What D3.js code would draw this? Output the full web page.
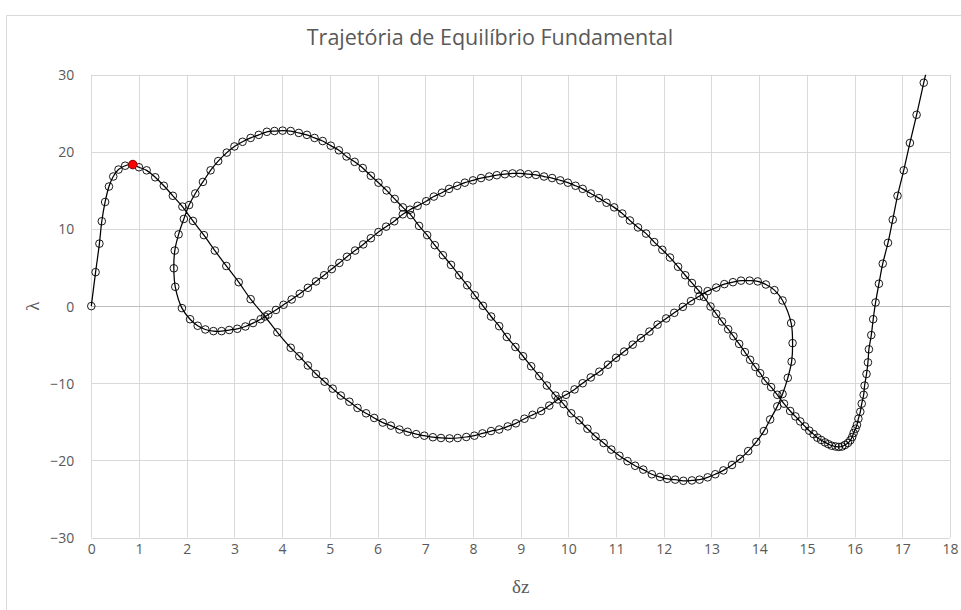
<!DOCTYPE html>
<html>
<head>
<meta charset="utf-8">
<script src="https://cdn.jsdelivr.net/npm/d3@7"></script>
<style>
  html, body { margin: 0; padding: 0; background: #fff; }
  svg { display: block; }
</style>
</head>
<body>
<svg id="chart" width="961" height="610"></svg>
<script>
// Equilibrium path: displacement δz and load factor λ, in solver order
const deltaZ = [
  0, 0.09, 0.17, 0.22, 0.29, 0.37, 0.46, 0.57, 0.71, 0.87,
  1.0, 1.16, 1.34, 1.52, 1.71, 1.91, 2.13, 2.36, 2.59, 2.83,
  3.09, 3.34, 3.64, 3.9, 4.18, 4.36, 4.54, 4.71, 4.89, 5.06,
  5.23, 5.41, 5.58, 5.76, 5.93, 6.11, 6.28, 6.46, 6.63, 6.81,
  6.98, 7.16, 7.33, 7.51, 7.68, 7.86, 8.03, 8.2, 8.38, 8.55,
  8.73, 8.9, 9.08, 9.25, 9.43, 9.6, 9.78, 9.95, 10.13, 10.3,
  10.47, 10.65, 10.83, 11.0, 11.17, 11.35, 11.52, 11.7, 11.87, 12.05,
  12.22, 12.4, 12.57, 12.75, 12.92, 13.1, 13.27, 13.45, 13.62, 13.8,
  13.97, 14.14, 14.32, 14.49, 14.67, 14.7, 14.68, 14.6, 14.49, 14.38,
  14.23, 14.1, 13.94, 13.77, 13.6, 13.43, 13.25, 13.08, 12.92, 12.75,
  12.59, 12.41, 12.24, 12.07, 11.92, 11.75, 11.57, 11.4, 11.24, 11.07,
  10.9, 10.74, 10.57, 10.4, 10.23, 10.06, 9.9, 9.73, 9.55, 9.39,
  9.22, 9.05, 8.89, 8.71, 8.55, 8.38, 8.21, 8.04, 7.88, 7.71,
  7.54, 7.37, 7.2, 7.04, 6.87, 6.7, 6.53, 6.36, 6.19, 6.02,
  5.86, 5.69, 5.52, 5.35, 5.19, 5.02, 4.85, 4.68, 4.52, 4.35,
  4.18, 4.01, 3.84, 3.68, 3.51, 3.34, 3.17, 3.0, 2.84, 2.66,
  2.5, 2.34, 2.18, 2.05, 1.94, 1.83, 1.75, 1.73, 1.76, 1.9,
  2.07, 2.23, 2.39, 2.56, 2.73, 2.89, 3.06, 3.23, 3.39, 3.55,
  3.71, 3.87, 4.03, 4.2, 4.37, 4.54, 4.71, 4.88, 5.04, 5.2,
  5.36, 5.53, 5.7, 5.86, 6.02, 6.18, 6.35, 6.53, 6.68, 6.84,
  7.02, 7.18, 7.35, 7.5, 7.67, 7.83, 8.0, 8.17, 8.34, 8.5,
  8.67, 8.83, 8.99, 9.16, 9.32, 9.49, 9.66, 9.83, 9.99, 10.15,
  10.3, 10.47, 10.64, 10.8, 10.96, 11.13, 11.29, 11.46, 11.63, 11.8,
  11.97, 12.13, 12.3, 12.45, 12.59, 12.72, 12.84, 12.98, 13.1, 13.22,
  13.35, 13.46, 13.58, 13.7, 13.81, 13.92, 14.02, 14.13, 14.25, 14.38,
  14.52, 14.65, 14.76, 14.86, 14.96, 15.05, 15.14, 15.22, 15.3, 15.38,
  15.45, 15.52, 15.6, 15.67, 15.74, 15.8, 15.86, 15.91, 15.95, 15.98,
  16.02, 16.05, 16.08, 16.12, 16.15, 16.19, 16.21, 16.25, 16.28, 16.3,
  16.35, 16.39, 16.44, 16.51, 16.59, 16.7, 16.8, 16.9, 17.03, 17.16,
  17.3, 17.45, 17.6
];

const lambda = [
  0, 4.4, 8.1, 11.0, 13.5, 15.5, 16.8, 17.7, 18.2, 18.35,
  18.0, 17.6, 16.7, 15.6, 14.3, 12.9, 11.05, 9.2, 7.2, 5.2,
  3.1, 0.9, -1.35, -3.4, -5.4, -6.5, -7.7, -8.8, -9.8, -10.7,
  -11.6, -12.4, -13.2, -13.9, -14.5, -15.1, -15.5, -16.0, -16.3, -16.6,
  -16.8, -17.0, -17.1, -17.15, -17.1, -16.97, -16.8, -16.5, -16.2, -16.0,
  -15.6, -15.2, -14.6, -14.1, -13.6, -12.9, -12.1, -11.5, -10.8, -10.0,
  -9.25, -8.5, -7.6, -6.7, -5.9, -5.0, -4.15, -3.3, -2.4, -1.6,
  -0.87, -0.1, 0.65, 1.3, 1.94, 2.4, 2.85, 3.1, 3.3, 3.3,
  3.2, 2.8, 2.07, 0.73, -2.2, -4.8, -7.2, -9.3, -11.4, -13.0,
  -14.7, -16.2, -17.6, -18.8, -19.8, -20.6, -21.3, -21.8, -22.2, -22.5,
  -22.6, -22.65, -22.5, -22.4, -22.15, -21.8, -21.2, -20.7, -20.1, -19.4,
  -18.6, -17.75, -16.9, -15.9, -14.8, -13.9, -12.7, -11.6, -10.3, -9.07,
  -7.8, -6.5, -5.3, -4.0, -2.6, -1.35, 0.04, 1.4, 2.7, 4.0,
  5.35, 6.6, 7.9, 9.2, 10.4, 11.8, 12.8, 13.9, 15.0, 16.0,
  16.9, 17.9, 18.7, 19.4, 20.2, 20.8, 21.4, 21.8, 22.2, 22.45,
  22.7, 22.75, 22.7, 22.6, 22.2, 21.8, 21.3, 20.7, 19.9, 18.8,
  17.6, 16.1, 14.6, 13.1, 11.3, 9.3, 7.2, 4.9, 2.5, -0.26,
  -1.7, -2.55, -3.03, -3.24, -3.24, -3.1, -2.94, -2.64, -2.2, -1.7,
  -1.1, -0.5, 0.17, 0.86, 1.6, 2.37, 3.2, 4.0, 4.8, 5.6,
  6.4, 7.2, 8.0, 8.8, 9.6, 10.3, 11.0, 11.9, 12.5, 13.0,
  13.6, 14.2, 14.7, 15.2, 15.6, 16.0, 16.3, 16.6, 16.8, 16.97,
  17.1, 17.2, 17.2, 17.1, 17.0, 16.8, 16.6, 16.3, 16.0, 15.6,
  15.2, 14.6, 14.0, 13.4, 12.8, 12.0, 11.1, 10.2, 9.4, 8.3,
  7.3, 6.3, 5.1, 4.0, 3.0, 2.1, 1.2, -0.05, -1.0, -2.0,
  -3.0, -3.9, -4.9, -5.96, -6.96, -7.9, -8.7, -9.7, -10.5, -11.5,
  -12.65, -13.6, -14.3, -14.95, -15.6, -16.15, -16.6, -17.06, -17.36, -17.67,
  -17.9, -18.1, -18.2, -18.26, -18.2, -18.0, -17.75, -17.4, -16.97, -16.45,
  -15.9, -15.4, -14.6, -13.7, -12.65, -11.5, -10.3, -8.8, -7.3, -5.6,
  -3.76, -1.7, 0.47, 2.9, 5.5, 8.2, 11.2, 14.3, 17.6, 21.15,
  24.8, 28.96, 33.0
];

// Limit point marked in red
const limitPoint = { dz: 0.87, lambda: 18.35 };

const xTicks = [0, 1, 2, 3, 4, 5, 6, 7, 8, 9, 10, 11, 12, 13, 14, 15, 16, 17, 18];
const yTicks = [-30, -20, -10, 0, 10, 20, 30];

const chartTitle = "Trajetória de Equilíbrio Fundamental";
const xTitle = "δz";
const yTitle = "λ";

const points = deltaZ.map((d, i) => ({ dz: d, lambda: lambda[i] }));

const svg = d3.select("#chart");
const W = 961, H = 610;
const plot = { left: 91.3, right: 950, top: 74.7, bottom: 537.5 };

const x = d3.scaleLinear().domain([0, 18]).range([plot.left, plot.right]);
const y = d3.scaleLinear().domain([-30, 30]).range([plot.bottom, plot.top]);

const textColor = "#595959";
const uiFont = "'Open Sans', 'Noto Sans', sans-serif";

// chart area frame
svg.append("path")
  .attr("d", `M6.5,${H} V15.5 H${W}`)
  .attr("fill", "none")
  .attr("stroke", "#d9d9d9")
  .attr("stroke-width", 1);

// title
svg.append("text")
  .attr("x", 490)
  .attr("y", 45)
  .attr("text-anchor", "middle")
  .attr("font-family", uiFont)
  .attr("font-size", 21.5)
  .attr("fill", textColor)
  .text(chartTitle);

// gridlines
const grid = svg.append("g");
grid.selectAll("line.v")
  .data(xTicks)
  .join("line")
  .attr("class", "v")
  .attr("x1", d => Math.round(x(d)) + 0.5)
  .attr("x2", d => Math.round(x(d)) + 0.5)
  .attr("y1", plot.top)
  .attr("y2", plot.bottom)
  .attr("stroke", "#d9d9d9")
  .attr("stroke-width", 1);
grid.selectAll("line.h")
  .data(yTicks)
  .join("line")
  .attr("class", "h")
  .attr("x1", plot.left)
  .attr("x2", plot.right)
  .attr("y1", d => Math.round(y(d)) + 0.5)
  .attr("y2", d => Math.round(y(d)) + 0.5)
  .attr("stroke", d => d === 0 ? "#bfbfbf" : "#d9d9d9")
  .attr("stroke-width", 1);

// axes (labels only; lines come from the grid)
const xAxis = d3.axisBottom(x).tickValues(xTicks).tickSize(0).tickPadding(0).tickFormat(d3.format("d"));
const yAxis = d3.axisLeft(y).tickValues(yTicks).tickSize(0).tickPadding(0).tickFormat(d3.format("d"));

const gx = svg.append("g")
  .attr("transform", `translate(0,${plot.bottom + 7})`)
  .call(xAxis);
const gy = svg.append("g")
  .attr("transform", `translate(${plot.left - 17},0)`)
  .call(yAxis);

[gx, gy].forEach(g => {
  g.select(".domain").remove();
  g.selectAll("text")
    .attr("font-family", uiFont)
    .attr("font-size", 14)
    .attr("fill", textColor);
});
gy.selectAll("text").attr("dy", "0.35em");

// axis titles
svg.append("text")
  .attr("x", (plot.left + plot.right) / 2)
  .attr("y", 593)
  .attr("text-anchor", "middle")
  .attr("font-family", "'Liberation Serif', 'DejaVu Serif', serif")
  .attr("font-size", 19)
  .attr("fill", textColor)
  .text(xTitle);

svg.append("text")
  .attr("transform", `translate(39,${(plot.top + plot.bottom) / 2}) rotate(-90)`)
  .attr("text-anchor", "middle")
  .attr("font-family", "'Liberation Serif', 'DejaVu Serif', serif")
  .attr("font-size", 19)
  .attr("fill", textColor)
  .text(yTitle);

// clip to plot area
svg.append("defs").append("clipPath")
  .attr("id", "plot-clip")
  .append("rect")
  .attr("x", plot.left - 6)
  .attr("y", plot.top)
  .attr("width", plot.right - plot.left + 12)
  .attr("height", plot.bottom - plot.top);

const series = svg.append("g").attr("clip-path", "url(#plot-clip)");

const line = d3.line()
  .x(d => x(d.dz))
  .y(d => y(d.lambda))
  .curve(d3.curveCatmullRom.alpha(0.5));

series.append("path")
  .datum(points)
  .attr("d", line)
  .attr("fill", "none")
  .attr("stroke", "#000")
  .attr("stroke-width", 1.25);

series.selectAll("circle.pt")
  .data(points)
  .join("circle")
  .attr("class", "pt")
  .attr("cx", d => x(d.dz))
  .attr("cy", d => y(d.lambda))
  .attr("r", 3.8)
  .attr("fill", "none")
  .attr("stroke", "#000")
  .attr("stroke-width", 0.9);

series.append("circle")
  .datum(limitPoint)
  .attr("cx", d => x(d.dz))
  .attr("cy", d => y(d.lambda))
  .attr("r", 4.3)
  .attr("fill", "#ff0000")
  .attr("stroke", "#7f0000")
  .attr("stroke-width", 0.9);
</script>
</body>
</html>
